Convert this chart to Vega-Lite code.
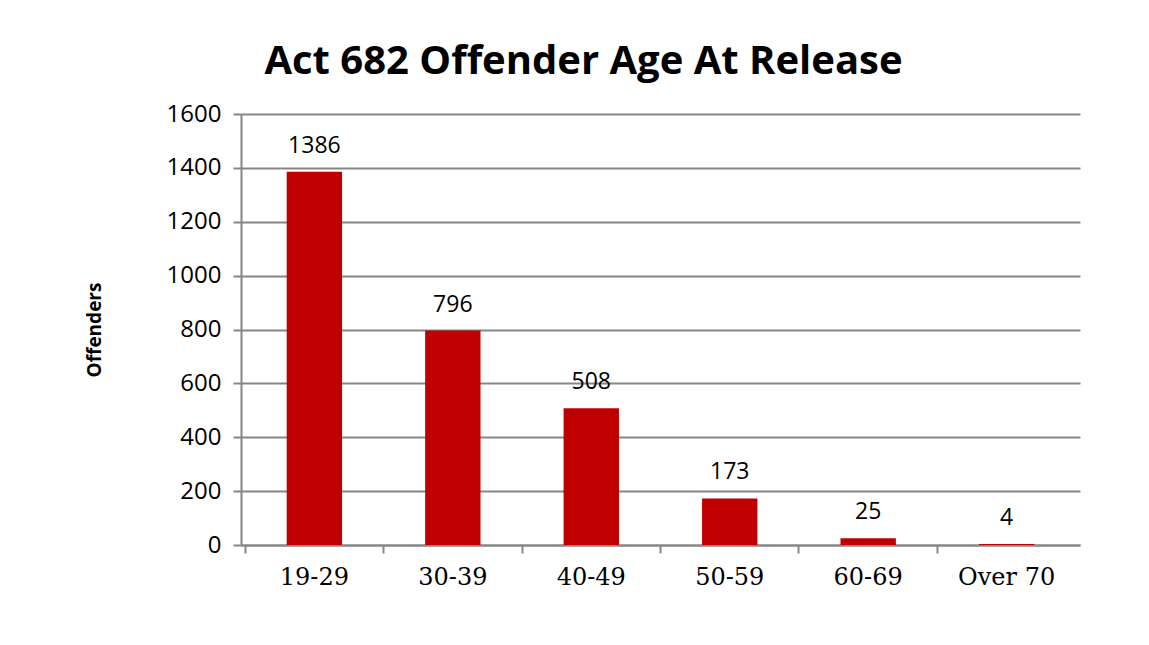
{
  "$schema": "https://vega.github.io/schema/vega-lite/v6.json",
  "width": 839,
  "height": 431,
  "autosize": {"type": "none"},
  "padding": {"left": 241, "top": 114, "right": 69, "bottom": 100},
  "background": "white",
  "title": {
    "text": "Act 682 Offender Age At Release",
    "font": "Open Sans",
    "fontSize": 40,
    "fontWeight": "bold",
    "color": "black",
    "anchor": "middle",
    "dx": -77,
    "offset": 20
  },
  "data": {
    "values": [
      {"age": "19-29", "offenders": 1386},
      {"age": "30-39", "offenders": 796},
      {"age": "40-49", "offenders": 508},
      {"age": "50-59", "offenders": 173},
      {"age": "60-69", "offenders": 25},
      {"age": "Over 70", "offenders": 4}
    ]
  },
  "encoding": {
    "x": {
      "field": "age",
      "type": "nominal",
      "sort": null,
      "scale": {"paddingInner": 0.6, "paddingOuter": 0.33},
      "axis": {
        "title": null,
        "labelAngle": 0,
        "labelFont": "DejaVu Serif",
        "labelFontSize": 24,
        "labelColor": "black",
        "labelPadding": 12,
        "domainColor": "#868686",
        "domainWidth": 2,
        "tickColor": "#868686",
        "tickWidth": 2,
        "tickSize": 8,
        "bandPosition": -0.75,
        "grid": false
      }
    },
    "y": {
      "field": "offenders",
      "type": "quantitative",
      "scale": {"domain": [0, 1600]},
      "axis": {
        "title": "Offenders",
        "titleFont": "Open Sans",
        "titleFontSize": 19,
        "titleFontWeight": "bold",
        "titleColor": "black",
        "titlePadding": 62,
        "values": [0, 200, 400, 600, 800, 1000, 1200, 1400, 1600],
        "format": "d",
        "labelFont": "Open Sans",
        "labelFontSize": 24,
        "labelColor": "black",
        "labelPadding": 12,
        "domainColor": "#868686",
        "domainWidth": 2,
        "tickColor": "#868686",
        "tickWidth": 2,
        "tickSize": 8,
        "grid": true,
        "gridColor": "#868686",
        "gridWidth": 2
      }
    }
  },
  "layer": [
    {"mark": {"type": "bar", "color": "#C00000"}},
    {
      "mark": {"type": "text", "dy": -26, "font": "Open Sans", "fontSize": 23, "color": "black"},
      "encoding": {"text": {"field": "offenders", "type": "quantitative"}}
    }
  ],
  "config": {"view": {"stroke": null}}
}
